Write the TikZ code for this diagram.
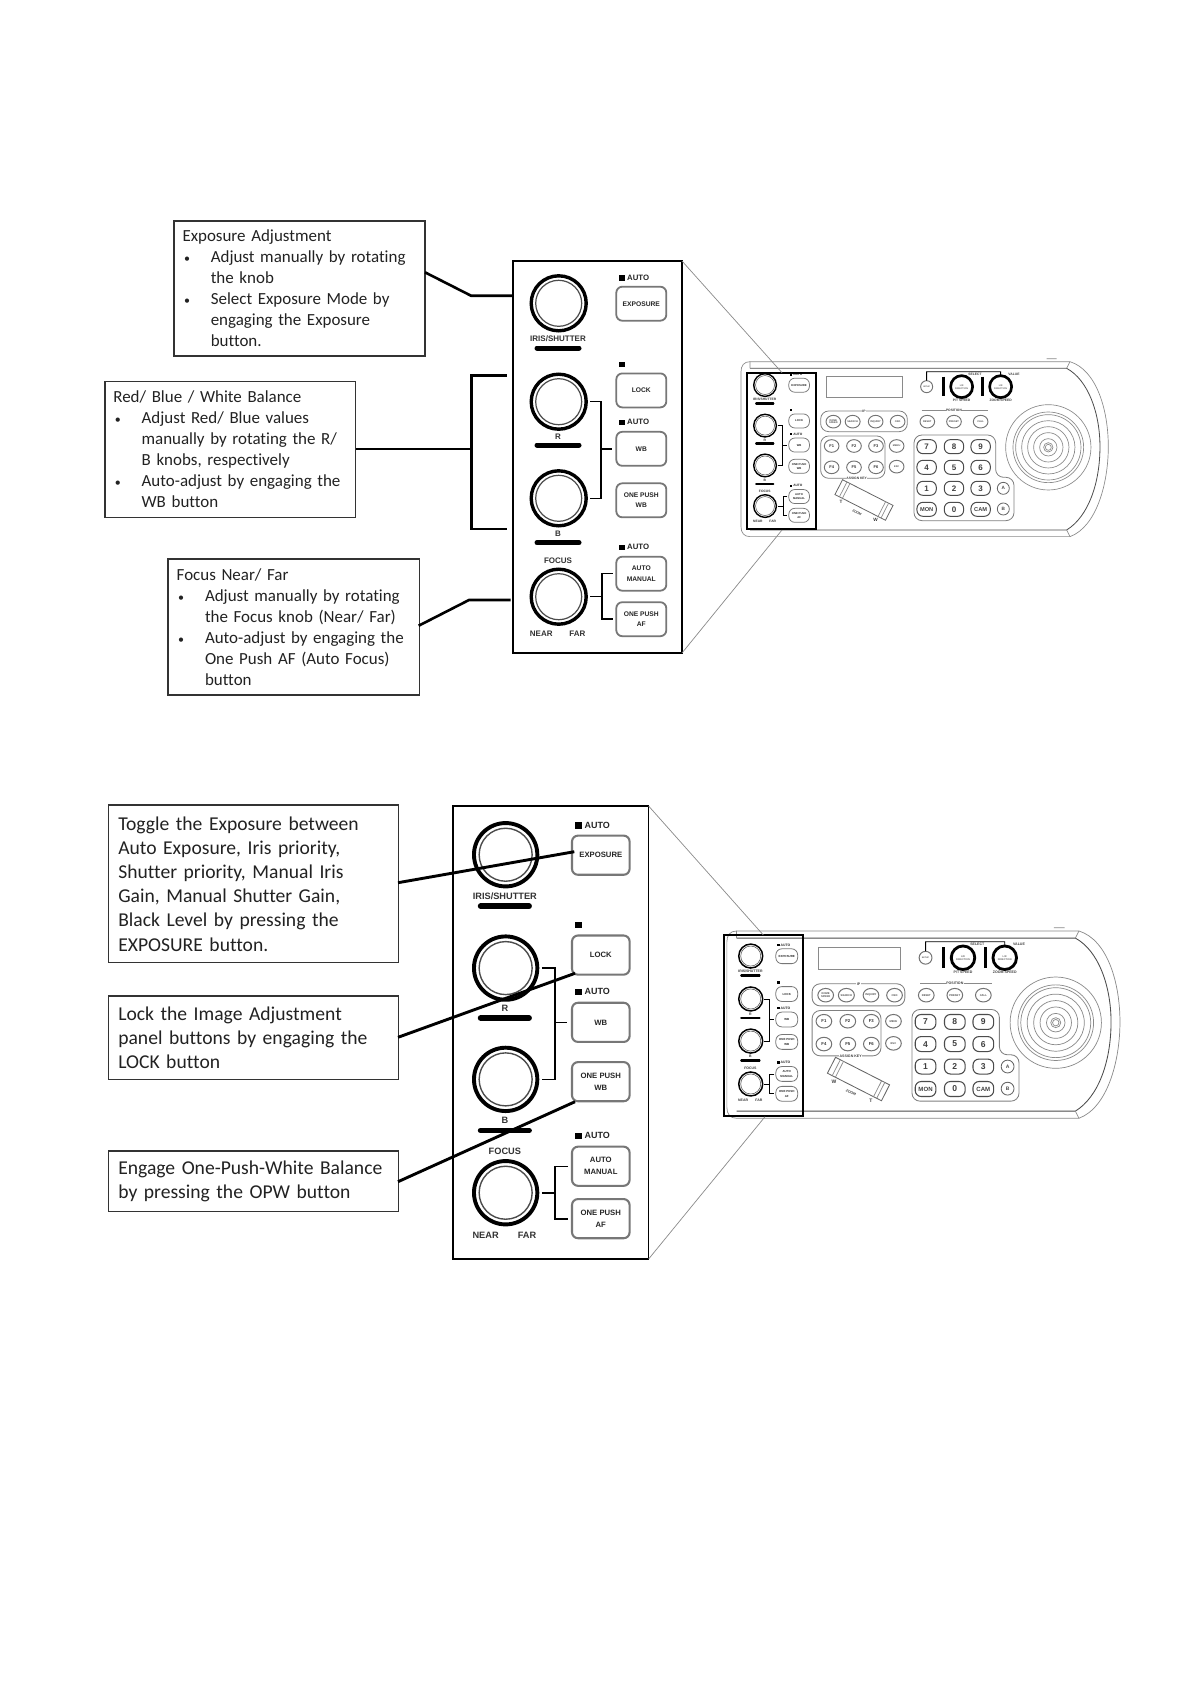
\documentclass[tikz,border=0pt]{standalone}
\usepackage{fontspec}
\setmainfont{Carlito}[Ligatures=NoCommon]
\newfontfamily\labfont{Liberation Sans}
\definecolor{boxline}{HTML}{333333}
\definecolor{btnline}{HTML}{777777}
\definecolor{txt}{HTML}{222222}
\definecolor{devline}{HTML}{8A8A8A}
\newcommand{\blt}{\makebox[28.3pt][l]{\hspace{1.5pt}\fontsize{12}{12}\selectfont •}}
\usetikzlibrary{shapes.geometric}
\tikzset{
  noteA/.style={draw=boxline,line width=1.5pt,outer sep=0pt,inner ysep=0pt,align=left,anchor=north west,text=txt,font=\fontsize{16.95}{21}\selectfont},
  noteB/.style={draw=boxline,line width=1.5pt,outer sep=0pt,inner ysep=0pt,align=left,anchor=north west,text=txt,font=\fontsize{19.6}{24.2}\selectfont},
  lead/.style={line width=2.6pt,black},
  leadb/.style={line width=2.9pt,black},
  proj/.style={line width=.7pt,devline},
  panelrect/.style={draw=black,line width=1.6pt,outer sep=0pt,anchor=north west,inner sep=0pt},
  knob/.style={circle,draw=black,line width=\ps*3.4pt,outer sep=0pt,minimum size=55pt,inner sep=0pt},
  kring/.style={circle,draw=black!70,line width=\ps*1.2pt,outer sep=0pt,minimum size=46pt,inner sep=0pt},
  pbtn/.style={rectangle,rounded corners=6pt,draw=btnline,line width=\ps*1.8pt,outer sep=0pt,minimum width=50pt,minimum height=34pt,inner sep=0pt,align=center,font=\labfont\bfseries\fontsize{6.7}{10.5}\selectfont,text=black!85},
  plab/.style={inner sep=0pt,font=\labfont\bfseries\fontsize{8}{9}\selectfont,text=black!80},
  pauto/.style={inner sep=0pt,anchor=west,font=\labfont\bfseries\fontsize{7.8}{8}\selectfont,text=black!85},
  pbar/.style={line width=\ps*5pt,line cap=round,black},
  pwire/.style={line width=\ps*1.5pt,black},
  psq/.style={fill=black,inner sep=0pt,minimum size=5.5pt},
  cline/.style={draw=devline,line width=\cs*2pt},
  cbtn/.style={ellipse,draw=black!55,line width=\cs*2.8pt,minimum width=44pt,minimum height=38pt,inner sep=0pt,align=center,font=\labfont\bfseries\fontsize{7.5}{8.5}\selectfont,text=black!70},
  cfkey/.style={cbtn,font=\labfont\bfseries\fontsize{12}{12}\selectfont,text=black!80},
  ckey/.style={rectangle,rounded corners=6pt,draw=black!70,line width=\cs*3pt,minimum width=58pt,minimum height=42pt,inner sep=0pt,font=\labfont\bfseries\fontsize{24}{24}\selectfont,text=black!75},
  ckeyw/.style={ckey,font=\labfont\bfseries\fontsize{17}{17}\selectfont},
  clab/.style={inner sep=1.5pt,font=\labfont\bfseries\fontsize{10}{10}\selectfont,text=black!75},
  cdark/.style={circle,draw=black,line width=\cs*8pt,minimum size=66pt,inner sep=0pt,align=center,font=\labfont\bfseries\fontsize{7}{9}\selectfont,text=black!60},
}
\newcommand{\panelbody}[4]{%
 \begin{scope}[shift={(#2,#3)},scale=#4,transform shape]
  \def\ps{#4}
  \node[knob] (#1k1) at (45.7,42.3) {};
  \node[kring] (#1r1) at (45.7,42.3) {};
  \node[knob] (#1k2) at (45.7,140.7) {};
  \node[kring] (#1r2) at (45.7,140.7) {};
  \node[knob] (#1k3) at (45.7,237.3) {};
  \node[kring] (#1r3) at (45.7,237.3) {};
  \node[knob] (#1k4) at (45.7,335.7) {};
  \node[kring] (#1r4) at (45.7,335.7) {};
  \node[plab] (#1l1) at (45,78) {IRIS/SHUTTER};
  \node[plab] (#1l2) at (45,175.7) {R};
  \node[plab] (#1l3) at (45,273) {B};
  \node[plab] (#1l4) at (45,299.7) {FOCUS};
  \node[plab] (#1l5) at (28.3,372.3) {NEAR};
  \node[plab] (#1l6) at (64.3,372.3) {FAR};
  \coordinate (#1b1a) at (24,87); \coordinate (#1b1b) at (66,87);
  \coordinate (#1b2a) at (24,184); \coordinate (#1b2b) at (66,184);
  \coordinate (#1b3a) at (24,281.7); \coordinate (#1b3b) at (66,281.7);
  \draw[pbar] (#1b1a) -- (#1b1b);
  \draw[pbar] (#1b2a) -- (#1b2b);
  \draw[pbar] (#1b3a) -- (#1b3b);
  \node[pbtn] (#1exp) at (128.3,42.7) {EXPOSURE};
  \node[pbtn] (#1lock) at (128.3,129.4) {LOCK};
  \node[pbtn] (#1wb) at (128.3,187.8) {WB};
  \node[pbtn] (#1opw) at (128.3,239.3) {ONE PUSH\\WB};
  \node[pbtn] (#1am) at (128.3,312.7) {AUTO\\MANUAL};
  \node[pbtn] (#1af) at (128.3,358.2) {ONE PUSH\\AF};
  \node[psq] (#1s1) at (109,17) {};
  \node[psq] (#1s2) at (109,103.3) {};
  \node[psq] (#1s3) at (109,161.3) {};
  \node[psq] (#1s4) at (109,286.3) {};
  \node[pauto] (#1a1) at (114,17) {AUTO};
  \node[pauto] (#1a3) at (114,161.3) {AUTO};
  \node[pauto] (#1a4) at (114,286.3) {AUTO};
  \coordinate (#1w2) at ([xshift=4pt]#1k2.east);
  \coordinate (#1w3) at ([xshift=4pt]#1k3.east);
  \coordinate (#1w4) at ([xshift=4pt]#1k4.east);
  \coordinate (#1wb0) at ([xshift=-4pt]#1wb.west);
  \coordinate (#1am0) at ([xshift=-3.5pt]#1am.west);
  \coordinate (#1af0) at ([xshift=-3.5pt]#1af.west);
  \draw[pwire] (#1w2) -- ++(11,0) |- (#1w3);
  \draw[pwire] ([xshift=-11pt]#1wb0) -- (#1wb0);
  \draw[pwire] (#1w4) -- ++(11,0);
  \draw[pwire] (#1am0) -- ++(-11,0) |- (#1af0);
 \end{scope}}
\newcommand{\controller}[6]{%
 \begin{scope}[shift={(#2,#3)},scale=#4,transform shape]
  \def\cs{#4}
  \draw[cline] (60,35) -- (1020,35) .. controls (1100,60) and (1135,180) .. (1135,290) .. controls (1135,400) and (1100,530) .. (1020,560) -- (60,560) .. controls (42,560) and (33,548) .. (33,530) -- (33,65) .. controls (33,47) and (42,35) .. (60,35) -- cycle;
  \draw[draw=black!70,line width=\cs*2.4pt] (60,55) -- (1010,55) .. controls (1075,90) and (1110,190) .. (1110,290) .. controls (1110,400) and (1075,500) .. (1010,540) -- (60,540);
  \draw[cline] (60,35) -- (60,55) (1020,35) -- (1010,55) (1020,560) -- (1010,540) (950,26) -- (980,26);
  \node[draw=devline,line width=\cs*2pt,minimum width=228pt,minimum height=62pt,inner sep=0pt] (#1disp) at (404,111) {};
  \node[cbtn,circle,minimum size=36pt,minimum width=36pt,minimum height=36pt,font=\labfont\bfseries\fontsize{6}{6}\selectfont] (#1setup) at (590,110) {SETUP};
  \node[cdark] (#1pt) at (695,110) {L/R\\DIRECTION};
  \node[cdark] (#1zs) at (812,110) {L/R\\DIRECTION};
  \draw[black,line width=\cs*8pt] (640,80) -- (640,138) (758,80) -- (758,138);
  \draw[black,line width=\cs*2.5pt] (#1setup.north) -- (590,65) -- (812,65) -- (#1zs.north);
  \node[clab] (#1sel) at (735,72) {SELECT};
  \node[clab] (#1val) at (852,72) {VALUE};
  \node[clab] (#1ptl) at (695,150) {P/T SPEED};
  \node[clab] (#1zsl) at (812,150) {ZOOM SPEED};
  \node[draw=black!50,line width=\cs*2.4pt,rounded corners=8pt,minimum width=260pt,minimum height=62pt,inner sep=0pt] (#1ipg) at (402,214) {};
  \node[clab,fill=white] (#1ipt) at (402,183) {IP};
  \node[cbtn] (#1i1) at (310,215) {DOME\\SPEED};
  \node[cbtn] (#1i2) at (368,215) {SEARCH};
  \node[cbtn] (#1i3) at (437,215) {INQUIRY};
  \node[cbtn] (#1i4) at (503,215) {OSD};
  \coordinate (#1pa) at (575,182); \coordinate (#1pb) at (775,182);
  \draw[cline] (#1pa) -- (#1pb);
  \node[clab,fill=white] (#1pos) at (672,182) {POSITION};
  \node[cbtn] (#1p1) at (592,215) {RESET};
  \node[cbtn] (#1p2) at (672,215) {PRESET};
  \node[cbtn] (#1p3) at (752,215) {CALL};
  \node[draw=black!50,line width=\cs*2.4pt,rounded corners=8pt,minimum width=193pt,minimum height=127pt,inner sep=0pt] (#1fg) at (368.5,321.5) {};
  \node[clab,fill=white] (#1ak) at (380,385) {ASSIGN KEY};
  \foreach \n/\cx/\cy in {1/305/288,2/372/288,3/438/288,4/305/352,5/372/352,6/438/352}{
    \node[cfkey] (#1f\n) at (\cx,\cy) {F\n};}
  \node[cbtn] (#1menu) at (500,288) {MENU};
  \node[cbtn] (#1esc) at (500,350) {ESC};
  \draw[draw=black!50,line width=\cs*2.4pt,rounded corners=8pt] (552,255) -- (797,255) -- (797,382) -- (852,382) -- (852,512) -- (552,512) -- cycle;
  \foreach \n/\cx/\cy in {7/590/290,8/672/290,9/752/290,4/590/352,5/672/352,6/752/352,1/590/415,2/672/415,3/752/415,0/672/478}{
    \node[ckey] (#1n\n) at (\cx,\cy) {\n};}
  \node[ckeyw] (#1mon) at (590,478) {MON};
  \node[ckeyw] (#1cam) at (752,478) {CAM};
  \node[circle,draw=black!60,line width=\cs*2.4pt,minimum size=36pt,inner sep=0pt,font=\labfont\bfseries\fontsize{14}{14}\selectfont,text=black!70] (#1A) at (820,415) {A};
  \node[circle,draw=black!60,line width=\cs*2.4pt,minimum size=36pt,inner sep=0pt,font=\labfont\bfseries\fontsize{14}{14}\selectfont,text=black!70] (#1B) at (820,477) {B};
  \foreach \rad in {128,106,98,80,62,44,26,14,9}{
    \draw[cline] (955,292) circle (\rad);}
  \node[draw=black!60,line width=\cs*2.4pt,rotate=-27,minimum width=170pt,minimum height=50pt,inner sep=0pt] (#1rock) at (402,450) {};
  \begin{scope}[shift={(402,450)},rotate=-27]
    \draw[cline] (-70,-25) -- (-70,25) (-60,-25) -- (-60,25) (60,-25) -- (60,25) (70,-25) -- (70,25);
  \end{scope}
  \node[clab,font=\labfont\bfseries\fontsize{14}{14}\selectfont] (#1rl) at (333,457) {#5};
  \node[clab,rotate=-27] (#1rz) at (381,488) {ZOOM};
  \node[clab,font=\labfont\bfseries\fontsize{14}{14}\selectfont] (#1rr) at (437,511) {#6};
 \end{scope}}
\begin{document}
\begin{tikzpicture}[x=1pt,y=-1pt]
\useasboundingbox[fill=white] (0,0) rectangle (1191,1684);
% --- top set ---
\node[noteA,minimum width=251pt,minimum height=135pt,text width=234pt,inner xsep=8.5pt] (boxA) at (174,221) {%
Exposure Adjustment\\
\blt Adjust manually by rotating\\
\hspace*{28.3pt}the knob\\
\blt Select Exposure Mode by\\
\hspace*{28.3pt}engaging the Exposure\\
\hspace*{28.3pt}button.};
\node[noteA,minimum width=250.7pt,minimum height=135.6pt,text width=234pt,inner xsep=8.3pt] (boxB) at (105,381.7) {%
Red/ Blue / White Balance\\
\blt Adjust Red/ Blue values\\
\hspace*{28.3pt}manually by rotating the R/\\
\hspace*{28.3pt}B knobs, respectively\\
\blt Auto-adjust by engaging the\\
\hspace*{28.3pt}WB button};
\node[noteA,minimum width=250.7pt,minimum height=136pt,text width=234pt,inner xsep=8.7pt] (boxC) at (168,559) {%
Focus Near/ Far\\
\blt Adjust manually by rotating\\
\hspace*{28.3pt}the Focus knob (Near/ Far)\\
\blt Auto-adjust by engaging the\\
\hspace*{28.3pt}One Push AF (Auto Focus)\\
\hspace*{28.3pt}button};
\node[panelrect,minimum width=169pt,minimum height=392pt] (pA) at (513,261) {};
\panelbody{pa}{513}{261}{1}
\controller{ca}{730}{350}{0.3333}{T}{W}
\panelbody{sa}{746.2}{367.6}{0.4124}
\node[panelrect,line width=1.8pt,minimum width=68.7pt,minimum height=156pt] (rA) at (747.3,373.3) {};
\coordinate (a1) at (425,272.3); \coordinate (a2) at (471,295.7); \coordinate (a3) at (513.3,295.7);
\draw[lead] (a1) -- (a2) -- (a3);
\coordinate (b1) at (355.7,449); \coordinate (b2) at (470.5,449);
\coordinate (b3) at (506.7,375.7); \coordinate (b4) at (471.7,375.7); \coordinate (b5) at (471.7,529); \coordinate (b6) at (506.7,529);
\draw[lead] (b1) -- (b2);
\draw[lead] (b3) -- (b4) -- (b5) -- (b6);
\coordinate (c1) at (418.7,625.7); \coordinate (c2) at (469,600); \coordinate (c3) at (510.7,600);
\draw[lead] (c1) -- (c2) -- (c3);
\coordinate (pe1) at (782,372.7); \coordinate (pe2) at (782,530);
\draw[proj] (pA.north east) -- (pe1);
\draw[proj] (pA.south east) -- (pe2);
% --- bottom set ---
\node[noteB,minimum width=289.7pt,minimum height=157.7pt,text width=270pt,inner xsep=10pt] (boxD) at (108.3,805) {%
Toggle the Exposure between\\
Auto Exposure, Iris priority,\\
Shutter priority, Manual Iris\\
Gain, Manual Shutter Gain,\\
Black Level by pressing the\\
EXPOSURE button.};
\node[noteB,minimum width=289.7pt,minimum height=83.3pt,text width=270pt,inner xsep=10pt] (boxE) at (108.3,996) {%
Lock the Image Adjustment\\
panel buttons by engaging the\\
LOCK button};
\node[noteB,minimum width=289.7pt,minimum height=60.3pt,text width=270pt,inner xsep=10pt] (boxF) at (108.3,1151) {%
Engage One-Push-White Balance\\
by pressing the OPW button};
\node[panelrect,minimum width=195.6pt,minimum height=453pt] (pB) at (453,806) {};
\panelbody{pb}{453}{806}{1.152}
\controller{cb}{715.1}{918.5}{0.3567}{W}{T}
\panelbody{sb}{730.8}{937.6}{0.436}
\node[panelrect,line width=1.8pt,minimum width=79pt,minimum height=180.7pt] (rB) at (724.3,935) {};
\coordinate (d1) at (398,882.7); \coordinate (e1) at (398,1037.3); \coordinate (f1) at (398,1181.7);
\coordinate (d2) at (574.3,851.7); \coordinate (e2) at (575,973.3); \coordinate (f2) at (575,1101.7);
\draw[leadb] (d1) -- (d2);
\draw[leadb] (e1) -- (e2);
\draw[leadb] (f1) -- (f2);
\coordinate (pf1) at (763.3,935); \coordinate (pf2) at (765,1116.7);
\draw[proj] (pB.north east) -- (pf1);
\draw[proj] (pB.south east) -- (pf2);
\end{tikzpicture}
\end{document}
